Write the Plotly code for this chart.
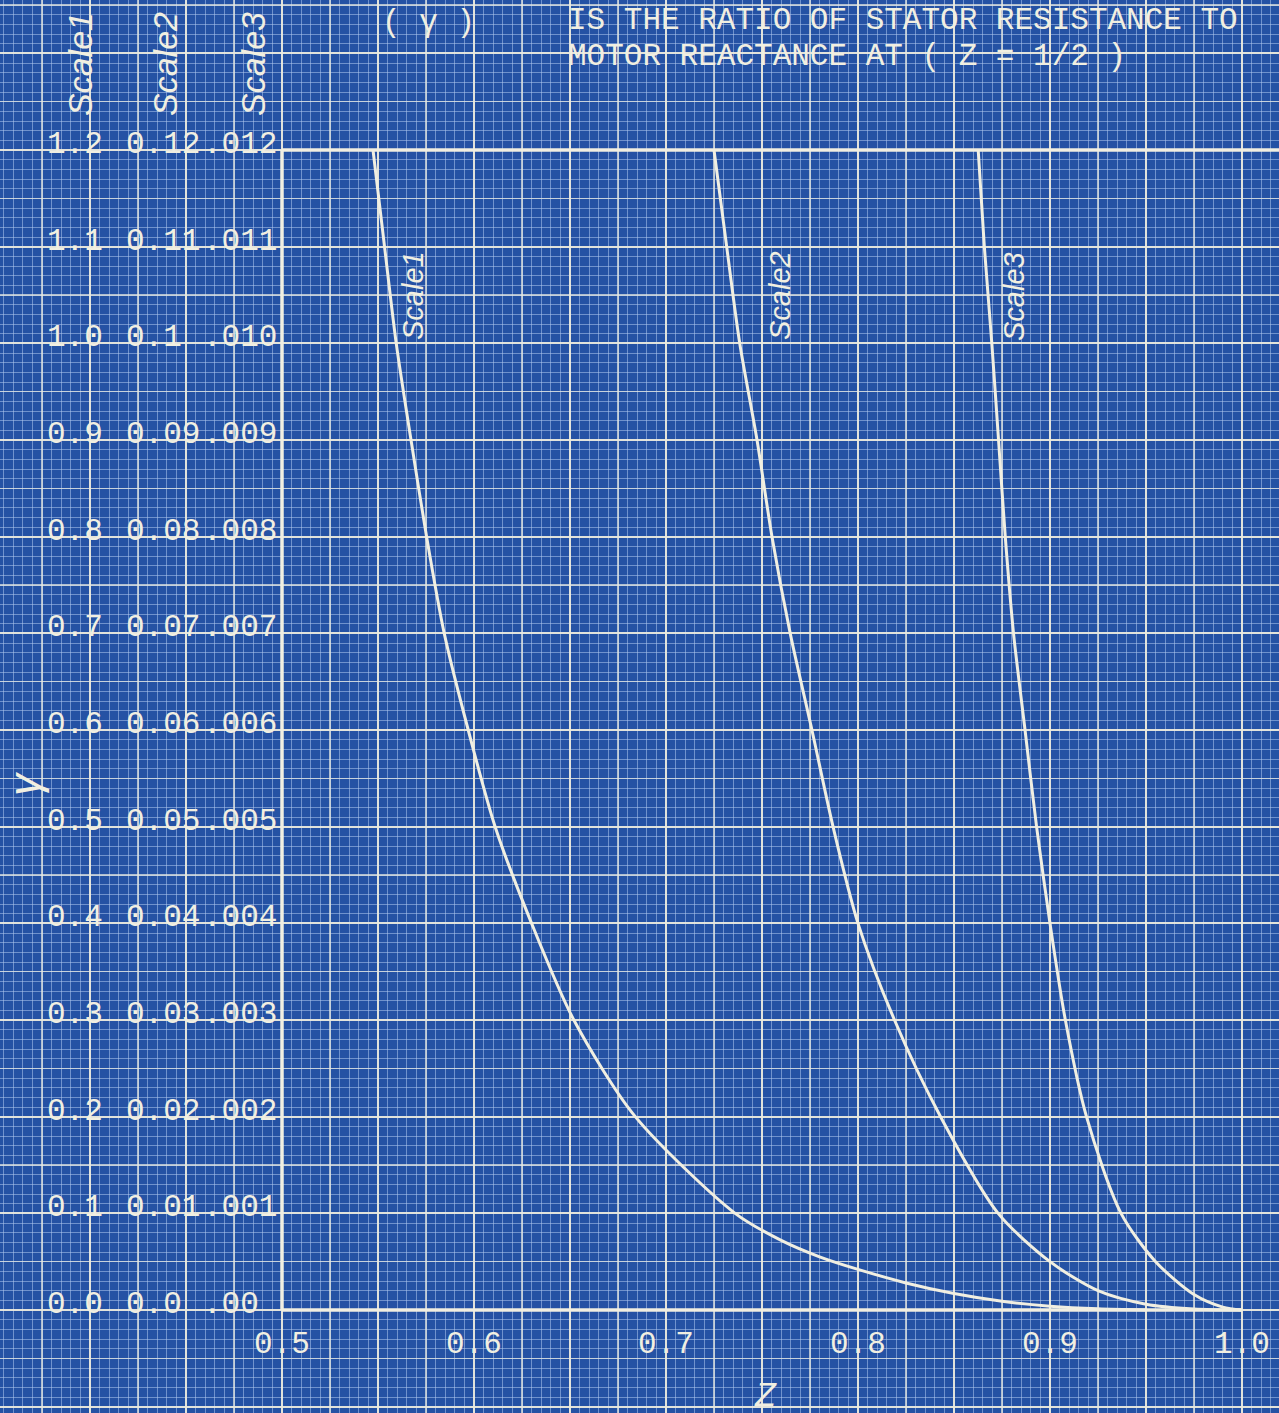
import plotly.graph_objects as go

# ---------------- data ----------------
z_ticks = [0.5, 0.6, 0.7, 0.8, 0.9, 1.0]
z_tick_text = ["0.5", "0.6", "0.7", "0.8", "0.9", "1.0"]

gamma_ticks = [1.2, 1.1, 1.0, 0.9, 0.8, 0.7, 0.6, 0.5, 0.4, 0.3, 0.2, 0.1, 0.0]
scale1_text = ["1.2", "1.1", "1.0", "0.9", "0.8", "0.7", "0.6", "0.5", "0.4", "0.3", "0.2", "0.1", "0.0"]
scale2_text = ["0.12", "0.11", "0.1", "0.09", "0.08", "0.07", "0.06", "0.05", "0.04", "0.03", "0.02", "0.01", "0.0"]
scale3_text = [".012", ".011", ".010", ".009", ".008", ".007", ".006", ".005", ".004", ".003", ".002", ".001", ".00"]

scale1_z = [0.5474, 0.5534, 0.5595, 0.5672, 0.5753, 0.5845, 0.597, 0.611, 0.630, 0.652, 0.684,
            0.736, 0.760, 0.780, 0.800, 0.825, 0.850, 0.875, 0.900, 0.925, 0.950]
scale1_g = [1.2, 1.1, 1.0, 0.9, 0.8, 0.7, 0.6, 0.5, 0.4, 0.3, 0.2,
            0.1, 0.072, 0.055, 0.042, 0.028, 0.017, 0.009, 0.004, 0.0012, 0.0]

scale2_z = [0.725, 0.7316, 0.7384, 0.7474, 0.7552, 0.7647, 0.776, 0.787, 0.800, 0.819, 0.843,
            0.873, 0.900, 0.925, 0.950, 0.975, 1.0]
scale2_g = [1.2, 1.1, 1.0, 0.9, 0.8, 0.7, 0.6, 0.5, 0.4, 0.3, 0.2,
            0.1, 0.05, 0.02, 0.006, 0.001, 0.0]

scale3_z = [0.8626, 0.8658, 0.8697, 0.8732, 0.8767, 0.881, 0.887, 0.893, 0.900, 0.908, 0.919,
            0.937, 0.955, 0.975, 0.990, 1.0]
scale3_g = [1.2, 1.1, 1.0, 0.9, 0.8, 0.7, 0.6, 0.5, 0.4, 0.3, 0.2,
            0.1, 0.05, 0.016, 0.003, 0.0]

# ---------------- geometry / style ----------------
W, H = 1279, 1413
X0_PX, Y0_PX = 282, 1310          # pixel of (z=0.5, gamma=0)
PX_PER_Z = 1920.0
PX_PER_G = 1160.0 / 1.2
X_RANGE = [0.5 - X0_PX / PX_PER_Z, 0.5 + (W - X0_PX) / PX_PER_Z]
Y_RANGE = [-(H - Y0_PX) / PX_PER_G, 1.2 + (Y0_PX - 1160) / PX_PER_G]

BG = "#2552a4"
INK = "#f1efe1"
FINE = "rgba(175,198,238,0.55)"
MED = "rgba(232,233,224,0.72)"
HEAVY = "rgba(236,235,222,0.95)"
MONO = "Liberation Mono, Courier New, monospace"
HAND = "Liberation Sans, DejaVu Sans, sans-serif"


def zx(px):
    return 0.5 + (px - X0_PX) / PX_PER_Z


def gy(py):
    return (Y0_PX - py) / PX_PER_G


fig = go.Figure()

curve_style = dict(color=INK, width=3)
for zs, gs in [(scale1_z, scale1_g), (scale2_z, scale2_g), (scale3_z, scale3_g)]:
    fig.add_trace(go.Scatter(x=zs, y=gs, mode="lines", line=curve_style,
                             line_shape="spline", line_smoothing=0.8,
                             showlegend=False, hoverinfo="skip"))

# empty helper traces so that every grid / label axis has a subplot
for xa, ya in [("x2", "y"), ("x3", "y"), ("x", "y2"), ("x", "y3"), ("x", "y4"), ("x", "y5")]:
    fig.add_trace(go.Scatter(x=[None], y=[None], xaxis=xa, yaxis=ya,
                             showlegend=False, hoverinfo="skip"))

tickfont = dict(family=MONO, size=31, color=INK)

lab_y = dict(range=Y_RANGE, tickvals=gamma_ticks, showgrid=False, zeroline=False,
             showline=False, ticks="", side="right", anchor="free",
             tickfont=tickfont, ticklabelshift=-8, ticklabelstandoff=0, fixedrange=True)

fig.update_layout(
    width=W, height=H,
    margin=dict(l=0, r=0, t=0, b=0),
    paper_bgcolor=BG, plot_bgcolor=BG,
    showlegend=False,
    xaxis=dict(range=X_RANGE, anchor="free", position=(H - Y0_PX) / H, side="bottom",
               tickvals=z_ticks, ticktext=z_tick_text, showgrid=False, zeroline=False,
               showline=False, ticks="", tickfont=tickfont, ticklabelstandoff=11,
               fixedrange=True),
    xaxis2=dict(range=X_RANGE, overlaying="x", anchor="y", showticklabels=False, ticks="",
                zeroline=False, showline=False, showgrid=True, tick0=0.5, dtick=0.05,
                gridcolor=HEAVY, gridwidth=2.2,
                minor=dict(tick0=0.5, dtick=0.005, showgrid=True, gridcolor=FINE, gridwidth=1),
                fixedrange=True),
    xaxis3=dict(range=X_RANGE, overlaying="x", anchor="y", showticklabels=False, ticks="",
                zeroline=False, showline=False, showgrid=True, tick0=0.525, dtick=0.05,
                gridcolor=MED, gridwidth=1.4, fixedrange=True),
    yaxis=dict(lab_y, ticktext=scale1_text, position=(48 - 2) / W),
    yaxis2=dict(lab_y, ticktext=scale2_text, overlaying="y", position=(127 - 2) / W),
    yaxis3=dict(lab_y, ticktext=scale3_text, overlaying="y", position=(204 - 2) / W),
    yaxis4=dict(range=Y_RANGE, overlaying="y", anchor="x", showticklabels=False, ticks="",
                zeroline=False, showline=False, showgrid=True, tick0=0, dtick=0.1,
                gridcolor=HEAVY, gridwidth=2.2,
                minor=dict(tick0=0, dtick=0.01, showgrid=True, gridcolor=FINE, gridwidth=1),
                fixedrange=True),
    yaxis5=dict(range=Y_RANGE, overlaying="y", anchor="x", showticklabels=False, ticks="",
                zeroline=False, showline=False, showgrid=True, tick0=0.05, dtick=0.1,
                gridcolor=MED, gridwidth=1.4, fixedrange=True),
)

# chart frame (left, top, bottom edges)
frame = dict(color=INK, width=3.5)
fig.add_shape(type="line", x0=0.5, x1=0.5, y0=0, y1=1.2, xref="x", yref="y", line=frame, layer="between")
fig.add_shape(type="line", x0=0.5, x1=X_RANGE[1], y0=1.2, y1=1.2, xref="x", yref="y", line=frame, layer="between")
fig.add_shape(type="line", x0=0.5, x1=1.0, y0=0, y1=0, xref="x", yref="y", line=frame, layer="between")

# ---------------- texts ----------------
ann = []
# title
ann.append(dict(x=zx(380), y=gy(22), text="( γ )", xanchor="left", yanchor="middle",
                font=dict(family=MONO, size=31, color=INK)))
ann.append(dict(x=zx(566), y=gy(20), text="IS THE RATIO OF STATOR RESISTANCE TO",
                xanchor="left", yanchor="middle", font=dict(family=MONO, size=31, color=INK)))
ann.append(dict(x=zx(566), y=gy(56), text="MOTOR REACTANCE AT ( Z = 1/2 )",
                xanchor="left", yanchor="middle", font=dict(family=MONO, size=31, color=INK)))
# scale headers
for px, txt in [(80, "Scale1"), (165, "Scale2"), (253, "Scale3")]:
    ann.append(dict(x=zx(px), y=gy(64), text=txt, textangle=-90, xanchor="center", yanchor="middle",
                    font=dict(family=HAND, size=34, color=INK, style="italic")))
# curve labels
for px, py, txt in [(413, 296, "Scale1"), (780, 296, "Scale2"), (1014, 297, "Scale3")]:
    ann.append(dict(x=zx(px), y=gy(py), text=txt, textangle=-90, xanchor="center", yanchor="middle",
                    font=dict(family=HAND, size=29, color=INK, style="italic")))
# axis titles
ann.append(dict(x=zx(24), y=gy(784), text="γ", textangle=-90, xanchor="center", yanchor="middle",
                font=dict(family=HAND, size=44, color=INK, style="italic")))
ann.append(dict(x=zx(765), y=gy(1394), text="Z", xanchor="center", yanchor="middle",
                font=dict(family=HAND, size=34, color=INK, style="italic")))

for a in ann:
    a.update(xref="x", yref="y", showarrow=False)
fig.update_layout(annotations=ann)

fig.write_html("out.html", config={"displayModeBar": False, "staticPlot": True})

# remove the browser's default page margin so the figure fills the window exactly
with open("out.html", "r", encoding="utf-8") as f:
    html = f.read()
html = html.replace("<head>", "<head><style>html,body{margin:0;padding:0;overflow:hidden;}</style>", 1)
with open("out.html", "w", encoding="utf-8") as f:
    f.write(html)
